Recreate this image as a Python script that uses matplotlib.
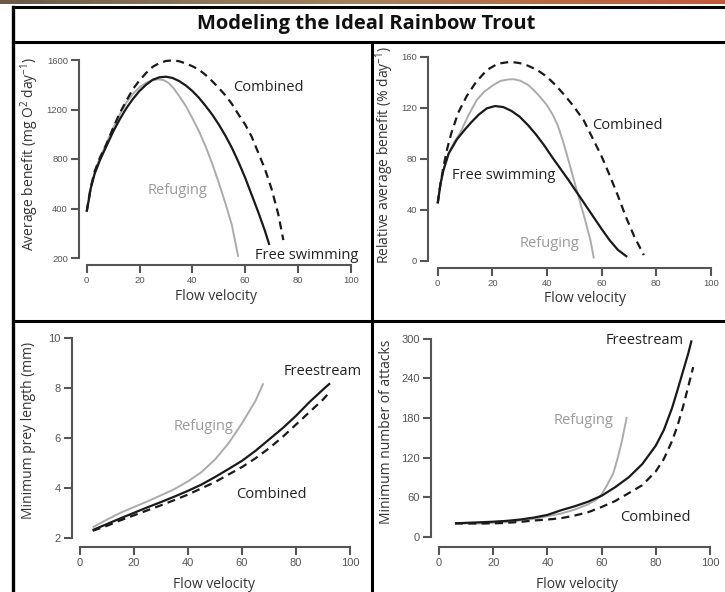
"""Modeling the Ideal Rainbow Trout: four panels of model curves vs flow velocity."""

import matplotlib

matplotlib.use("Agg")
import matplotlib.pyplot as plt  # noqa: E402
import numpy as np  # noqa: E402

plt.rcParams["font.family"] = ["Open Sans", "DejaVu Sans"]

W, H = 725, 592

# ---- panel A: average benefit (axis coordinate 0 is labelled "200")
a_ref_x = [0, 1.5, 3, 5, 7.5, 10, 12.5, 15, 17.5, 20, 22.5, 25, 27, 29, 31, 33, 35, 37.5,
           40, 42.5, 45, 47.5, 50, 52.5, 55, 57.4]
a_ref_y = [375, 560, 690, 810, 930, 1050, 1160, 1255, 1325, 1380, 1415, 1438, 1444, 1438, 1415,
           1370, 1310, 1230, 1130, 1025, 905, 765, 610, 445, 265, 10]
a_free_x = [0, 0.8, 1.5, 3, 5, 7.5, 10, 12.5, 15, 17.5, 20, 22.5, 25, 27.5, 30, 32.5, 35, 37.5,
            40, 42.5, 45, 47.5, 50, 52.5, 55, 57.5, 60, 62.5, 65, 67.5, 69.2]
a_free_y = [375, 470, 560, 680, 790, 905, 1020, 1120, 1210, 1285, 1350, 1400, 1440, 1460, 1465,
            1455, 1430, 1395, 1350, 1295, 1230, 1160, 1080, 990, 890, 775, 650, 510, 370, 220, 105]
a_comb_x = [0, 1.5, 3, 5, 7.5, 10, 12.5, 15, 17.5, 20, 22.5, 25, 27.5, 30, 32.5, 35, 37.5, 40,
            42.5, 45, 47.5, 50, 52.5, 55, 57.5, 60, 62.5, 65, 67.5, 70, 72.5, 74.5]
a_comb_y = [375, 570, 700, 810, 920, 1050, 1170, 1270, 1365, 1435, 1495, 1545, 1575, 1592, 1597,
            1590, 1572, 1550, 1522, 1480, 1430, 1375, 1315, 1245, 1160, 1080, 980, 850, 720, 560,
            360, 145]
a_yticks = [0, 400, 800, 1200, 1600]
a_yticklabels = ["200", "400", "800", "1200", "1600"]

# ---- panel B: relative average benefit
b_free_x = [0, 1, 2.1, 4, 7, 10, 12.5, 15, 18, 21, 24, 27, 30, 33, 36, 39, 42, 45, 48, 51, 54,
            57, 60, 63, 66, 69.4]
b_free_y = [45, 60, 71, 84, 95, 103, 109, 114.5, 119.5, 121.3, 120.5, 117.5, 113, 106.5, 99,
            90.5, 81, 72, 63, 53.5, 44, 34.5, 25, 16, 8.5, 3]
b_ref_x = [0, 1, 2.1, 4, 6, 8.2, 11, 14.3, 17, 20.4, 23, 25.9, 28, 30.2, 33, 35.1, 37.5, 40, 42,
           44, 46, 48, 50, 52, 54, 56, 57.2]
b_ref_y = [45, 60, 71, 84, 93, 100, 113, 126, 132.5, 137.8, 141, 142.2, 142.3, 141.2, 138, 134,
           128.5, 122, 115, 106, 93, 78, 62.5, 47, 32, 15.5, 1.8]
b_comb_x = [0, 1, 2.1, 3.5, 5, 7.5, 10.6, 14, 18, 22, 26.6, 30, 33, 36.5, 40, 43.5, 47, 50, 53.5,
            57, 60, 63, 66, 69, 72, 75.5]
b_comb_y = [45, 60, 73.7, 88, 100, 116, 129, 140, 149.5, 154.5, 156, 155, 153, 149.5, 144.3, 137,
            128.5, 120.5, 110, 95, 82, 67, 51, 34, 19, 4.4]
b_yticks = [0, 40, 80, 120, 160]

# ---- panel C: minimum prey length
c_ref_x = [4.7, 10, 15, 20, 25, 30, 35, 40, 45, 50, 55, 60, 65, 67.9]
c_ref_y = [2.44, 2.75, 3.02, 3.25, 3.48, 3.72, 3.97, 4.28, 4.65, 5.15, 5.8, 6.6, 7.5, 8.2]
c_free_x = [4.7, 10, 15, 20, 25, 30, 35, 40, 45, 50, 55, 60, 65, 70, 75, 80, 85, 90, 92.6]
c_free_y = [2.33, 2.57, 2.8, 3.02, 3.24, 3.45, 3.67, 3.9, 4.15, 4.45, 4.77, 5.1, 5.5, 5.95, 6.4,
            6.9, 7.45, 7.95, 8.2]
c_comb_x = [4.7, 10, 15, 20, 25, 30, 35, 40, 45, 50, 55, 60, 65, 70, 75, 80, 85, 90, 92.6]
c_comb_y = [2.3, 2.5, 2.72, 2.92, 3.12, 3.32, 3.53, 3.75, 4.0, 4.25, 4.55, 4.85, 5.2, 5.6, 6.05,
            6.55, 7.05, 7.55, 7.87]
c_yticks = [2, 4, 6, 8, 10]

# ---- panel D: minimum number of attacks
d_free_x = [5.9, 10, 15, 20, 25, 30, 35, 40, 45, 50, 55, 60, 65, 70, 75, 80, 83, 86, 88, 90, 92,
            93.2]
d_free_y = [20.2, 21, 21.8, 22.7, 24, 26, 29, 33, 40, 46, 53, 62, 75, 90, 110, 138, 162, 195,
            222, 250, 278, 297.5]
d_ref_x = [5.9, 15, 25, 35, 45, 50, 55, 58, 60, 62, 64.3, 66, 67.5, 69.3]
d_ref_y = [20.2, 20, 22, 27, 35, 41, 49, 56, 64, 78, 95.8, 120, 145, 181.5]
d_comb_x = [5.9, 10, 15, 20, 25, 30, 35, 40, 45, 50, 55, 60, 65, 70, 75, 80, 83, 86, 88, 90, 92,
            93.8]
d_comb_y = [20.2, 20, 20, 20.2, 21, 22.5, 24.5, 26, 28, 32, 37, 45, 54, 66, 78, 99, 118, 145,
            168, 196, 228, 257]
d_yticks = [0, 60, 120, 180, 240, 300]

x_ticks = [0, 20, 40, 60, 80, 100]

BLACK = "#1a1a1a"
GREY = "#ababab"
GREY_TXT = "#9a9a9a"
SPINE = "#555555"


def fx(px):
    return px / W


def fy(py):
    return 1 - py / H


def make_axes(fig, L, R, T, B, x0px, sx, y0px, y0, sy, yb, tick_fs):
    ax = fig.add_axes([fx(L), fy(B), (R - L) / W, (B - T) / H])
    ax.set_xlim((L - x0px) / sx, (R - x0px) / sx)
    ax.set_ylim(y0 - (B - y0px) / sy, y0 + (y0px - T) / sy)
    for s in ("top", "right"):
        ax.spines[s].set_visible(False)
    for s in ("left", "bottom"):
        ax.spines[s].set_linewidth(1.5)
        ax.spines[s].set_color(SPINE)
    ax.spines["left"].set_bounds(yb[0], yb[-1])
    ax.spines["bottom"].set_bounds(0, 100)
    ax.set_xticks(x_ticks)
    ax.set_yticks(yb)
    ax.tick_params(direction="out", length=6, width=1.5, color=SPINE,
                   labelsize=tick_fs, labelcolor="#555555", pad=2)
    for lab in ax.get_xticklabels() + ax.get_yticklabels():
        lab.set_family("Liberation Sans")
    ax.patch.set_visible(False)
    return ax


def curves(ax, ref, free, comb):
    ax.plot(*ref, color=GREY, lw=1.4, solid_capstyle="butt", solid_joinstyle="round")
    ax.plot(*free, color=BLACK, lw=1.6, solid_capstyle="butt", solid_joinstyle="round")
    ax.plot(*comb, color=BLACK, lw=1.6, dashes=(3.6, 2.4))


fig = plt.figure(figsize=(W / 100, H / 100), dpi=100)

# top decorative strip
strip = fig.add_axes([0, fy(4), 1, 4 / H])
strip.imshow(np.linspace(0, 1, 64)[None, :], aspect="auto",
             cmap=matplotlib.colors.LinearSegmentedColormap.from_list(
                 "strip", ["#6b5a45", "#8a7455", "#a5805a", "#b86a42", "#c4583a"]))
strip.axis("off")

# frame lines
frame = fig.add_axes([0, 0, 1, 1])
frame.set_xlim(0, W)
frame.set_ylim(H, 0)
frame.axis("off")
frame.plot([13, W], [7, 7], color="black", lw=2.2)
frame.plot([13, 13], [7, H], color="black", lw=2.4)
frame.plot([13, W], [42, 42], color="black", lw=2.2)
frame.plot([13, W], [321, 321], color="black", lw=2.2)
frame.plot([372, 372], [42, H], color="black", lw=2.2)
frame.text(366, 24.5, "Modeling the Ideal Rainbow Trout", ha="center", va="center",
           fontsize=14.5, fontweight="bold", color="#111111")

# panel A
ax = make_axes(fig, 79, 356, 55, 265, 86.7, 2.64, 258, 0, 0.12375, a_yticks, 6.8)
ax.set_yticklabels(a_yticklabels)
curves(ax, (a_ref_x, a_ref_y), (a_free_x, a_free_y), (a_comb_x, a_comb_y))
ax.text(55.4, 1374, "Combined", fontsize=10.5, color="#222222", va="center")
ax.text(23.2, 549, "Refuging", fontsize=10.5, color=GREY_TXT, va="center")
ax.text(63.8, 24, "Free swimming", fontsize=10.5, color="#222222", va="center")

# panel B
ax = make_axes(fig, 428, 715, 50, 268, 437.7, 2.73, 260.7, 0, 1.275, b_yticks, 6.8)
curves(ax, (b_ref_x, b_ref_y), (b_free_x, b_free_y), (b_comb_x, b_comb_y))
ax.text(56.4, 106.4, "Combined", fontsize=10.5, color="#222222", va="center")
ax.text(5.1, 67.2, "Free swimming", fontsize=10.5, color="#222222", va="center")
ax.text(30.1, 13.6, "Refuging", fontsize=10.5, color=GREY_TXT, va="center")

# panel C
ax = make_axes(fig, 71.7, 355, 333, 547, 80, 2.7, 538.3, 2, 25, c_yticks, 8)
curves(ax, (c_ref_x, c_ref_y), (c_free_x, c_free_y), (c_comb_x, c_comb_y))
ax.text(34.6, 6.47, "Refuging", fontsize=10.5, color=GREY_TXT, va="center")
ax.text(75.3, 8.67, "Freestream", fontsize=10.5, color="#222222", va="center")
ax.text(58, 3.76, "Combined", fontsize=10.5, color="#222222", va="center")

# panel D
ax = make_axes(fig, 431, 715, 333, 546.7, 439, 2.71, 536.7, 0, 0.66, d_yticks, 8)
curves(ax, (d_ref_x, d_ref_y), (d_free_x, d_free_y), (d_comb_x, d_comb_y))
ax.text(61.6, 297.7, "Freestream", fontsize=10.5, color="#222222", va="center")
ax.text(42.2, 176.8, "Refuging", fontsize=10.5, color=GREY_TXT, va="center")
ax.text(66.8, 29.6, "Combined", fontsize=10.5, color="#222222", va="center")

# axis titles
lab = dict(fontsize=10, color="#333333", ha="center", va="center")
frame.text(30, 153.5, r"Average benefit (mg O$\mathregular{^2}$ day$\mathregular{^{-1}}$)",
           rotation=90, **lab)
frame.text(385, 155, r"Relative average benefit (% day$\mathregular{^{-1}}$)", rotation=90, **lab)
frame.text(29, 430, "Minimum prey length (mm)", rotation=90, **lab)
frame.text(387, 432, "Minimum number of attacks", rotation=90, **lab)
frame.text(216, 297, "Flow velocity", **lab)
frame.text(585, 298, "Flow velocity", **lab)
frame.text(214, 585, "Flow velocity", **lab)
frame.text(577, 585, "Flow velocity", **lab)

fig.savefig("out.png", dpi=100)
